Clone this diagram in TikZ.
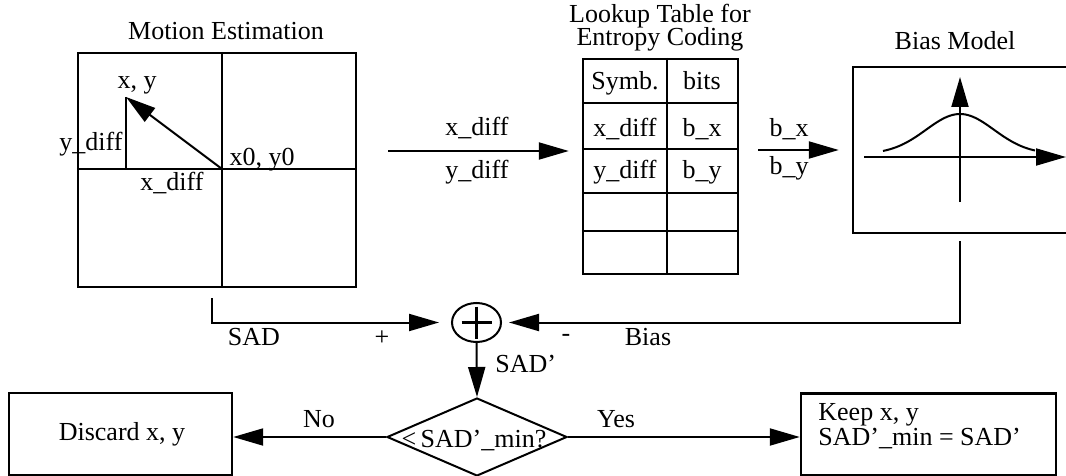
\documentclass[tikz,border=0pt]{standalone}
\usepackage{fontspec}
\setmainfont{Liberation Serif}
\usetikzlibrary{arrows.meta,shapes.geometric}
\begin{document}
\begin{tikzpicture}[x=0.5pt,y=-0.5pt,
  font=\fontsize{13}{15}\selectfont,
  box/.style={draw, line width=1.2pt, inner sep=0pt},
  conn/.style={line width=1pt, -{Triangle[length=15pt,width=8.5pt]}},
  grid/.style={line width=0.9pt},
  lbl/.style={inner sep=0pt, anchor=base}]
\useasboundingbox (0,0) rectangle (1066,476);

% ---------- Motion Estimation ----------
\node[lbl] (metitle) at (226,40) {Motion Estimation};
\node[box, minimum width=139pt, minimum height=117pt] (me) at (217,170) {};
\coordinate (o) at (222,169);
\coordinate (xy) at (126,97);
\draw[grid] (me.north -| o) -- (me.south -| o);
\draw[grid] (me.west |- o) -- (me.east |- o);
\draw[grid] (xy) -- (xy |- o);
\draw[conn] (o) -- (xy);
\node[lbl] (lxy) at (137,89) {x, y};
\node[lbl] (lydiff) at (91,150) {y\_diff};
\node[lbl] (lx0) at (262,165) {x0, y0};
\node[lbl] (lxdiff) at (172,191) {x\_diff};

% ---------- x_diff / y_diff arrow ----------
\coordinate (xdA) at (388,151);
\node[lbl] (lxd) at (477,135) {x\_diff};
\node[lbl] (lyd) at (477,178) {y\_diff};

% ---------- Lookup table ----------
\node[lbl] (lut1) at (660,23) {Lookup Table for};
\node[lbl] (lut2) at (660,46) {Entropy Coding};
\node[box, minimum width=77.5pt, minimum height=107.5pt] (lut) at (660.5,166.5) {};
\coordinate (col) at (667,0);
\draw[grid] (lut.north -| col) -- (lut.south -| col);
\foreach \r in {103,149,193,231}{
  \draw[grid] (lut.west |- 0,\r) -- (lut.east |- 0,\r);
}
\draw[conn, shorten >=6.5pt] (xdA) -- (lut.west |- xdA);
\node[lbl] (c11) at (625,90) {Symb.};
\node[lbl] (c12) at (702,90) {bits};
\node[lbl] (c21) at (625,137) {x\_diff};
\node[lbl] (c22) at (702,137) {b\_x};
\node[lbl] (c31) at (625,178) {y\_diff};
\node[lbl] (c32) at (702,178) {b\_y};

% ---------- Bias model ----------
\node[lbl] (biastitle) at (955,50) {Bias Model};
\node[box, minimum width=111pt, minimum height=83pt] (bias) at (964,150) {};
\coordinate (bA) at (758,150);
\draw[conn, shorten >=6.5pt] (bA) -- (bias.west);
\node[lbl] (lbx) at (789,137) {b\_x};
\node[lbl] (lby) at (789,175) {b\_y};
\coordinate (ax0) at (864,157);
\coordinate (ax1) at (1066,157);
\coordinate (ay0) at (960,202);
\coordinate (ay1) at (960,77);
\draw[conn] (ax0) -- (ax1);
\draw[conn] (ay0) -- (ay1);
\draw[line width=1pt] plot[domain=-77:75, samples=60, smooth]
  ({960+\x}, {152-40*(exp(-(\x/48)^2)-0.05)});

% ---------- Summation ----------
\node[draw, ellipse, line width=1pt, minimum width=24.5pt, minimum height=19.5pt, inner sep=0pt] (sum) at (476.5,322.5) {};
\draw[line width=1.5pt] ([xshift=-7.5pt]sum.center) -- ([xshift=7.5pt]sum.center);
\draw[line width=1.5pt] ([yshift=8pt]sum.center) -- ([yshift=-8pt]sum.center);

\coordinate (sadA) at (212,298);
\draw[conn, shorten >=6pt] (sadA) |- (sum.west);
\node[lbl] (lsad) at (254,345) {SAD};
\node[inner sep=0pt] (lplus) at (382,338) {+};
\node[inner sep=0pt] (lminus) at (566,338) {-};
\node[lbl] (lbias) at (648,345) {Bias};

\coordinate (biasA) at (960,241);
\draw[conn, shorten >=3.5pt] (biasA) |- (sum.east);

% ---------- Decision ----------
\node[draw, diamond, line width=1pt, minimum width=90pt, minimum height=39pt, inner sep=0pt] (dec) at (477,437) {};
\node[lbl] (ldec) at (474,447) {<\,SAD’\_min?};
\draw[conn] (sum.south) -- (dec.north);
\node[lbl, anchor=base west] (lsadp) at (495,372) {SAD’};

\node[box, minimum width=111.5pt, minimum height=41pt] (discard) at (120.5,434) {};
\node[lbl] (ldiscard) at (122,440) {Discard x, y};
\node[box, minimum width=127.5pt, minimum height=41pt] (keep) at (928.5,434.5) {};
\node[inner sep=0pt, anchor=west, align=left, font=\fontsize{13}{10.5}\selectfont] (lkeep) at (818,426) {Keep x, y\\SAD’\_min = SAD’};

\draw[conn] (dec.west) -- (discard.east |- dec.west);
\node[lbl] (lno) at (319,427) {No};
\draw[conn] (dec.east) -- (keep.west |- dec.east);
\node[lbl] (lyes) at (616,427) {Yes};
\end{tikzpicture}
\end{document}
